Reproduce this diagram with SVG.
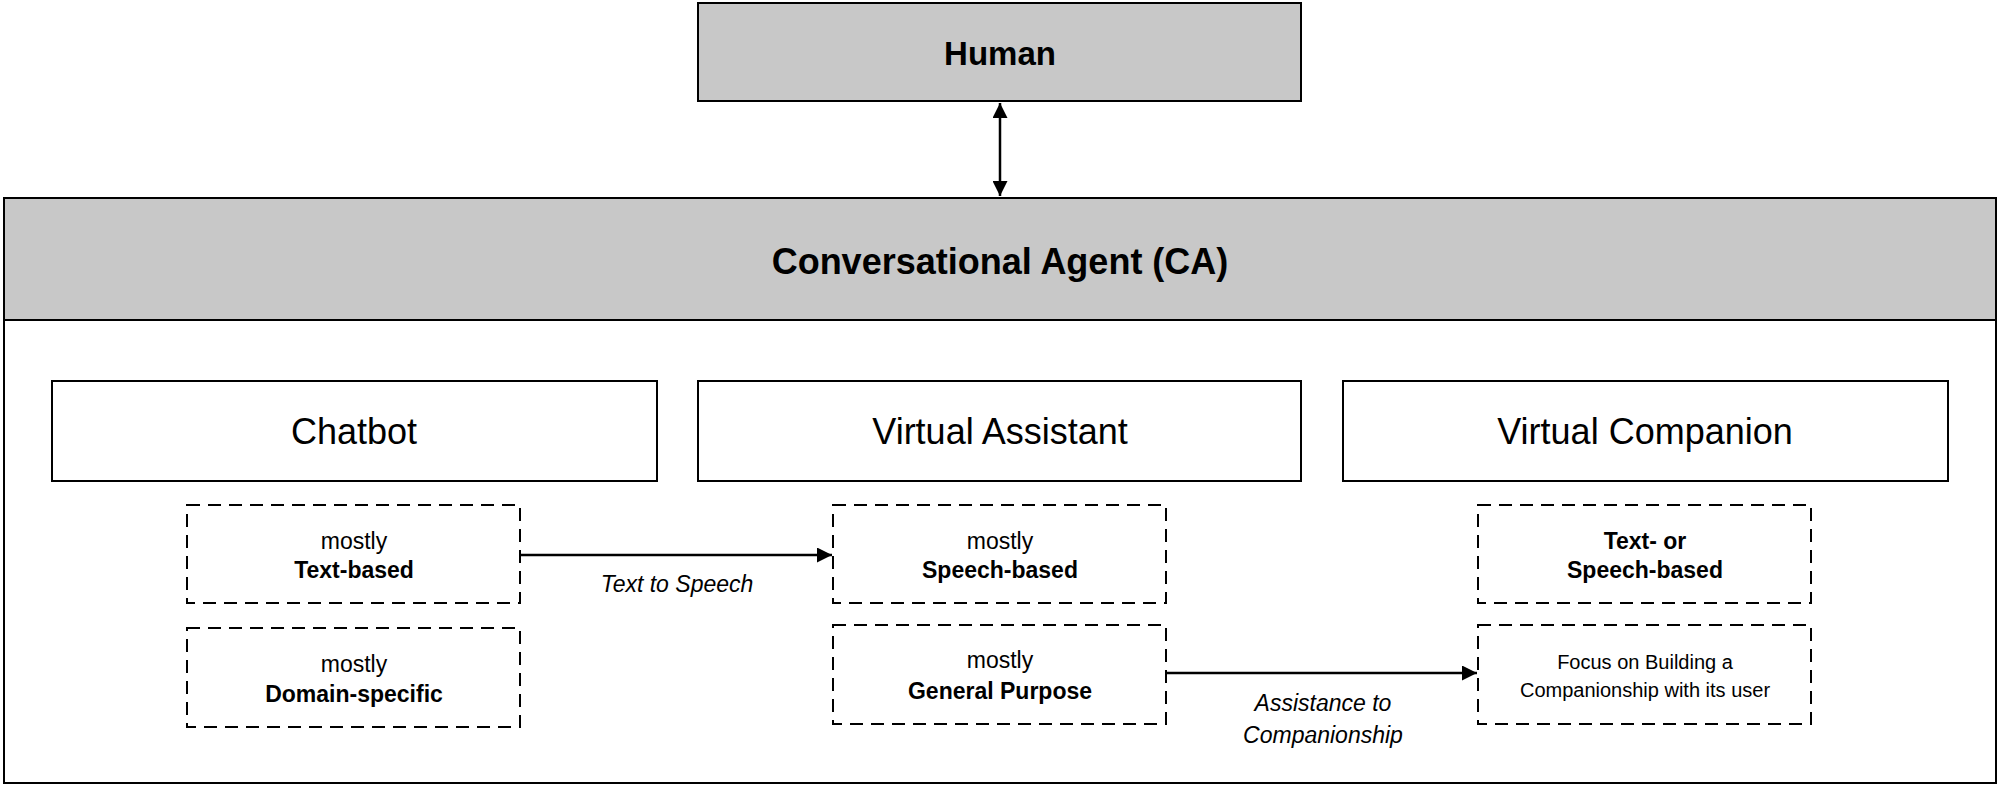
<svg xmlns="http://www.w3.org/2000/svg" width="2000" height="786" viewBox="0 0 2000 786">
<defs>
<marker id="ah" viewBox="0 0 10 10" refX="10" refY="5" markerWidth="6" markerHeight="6" markerUnits="strokeWidth" orient="auto-start-reverse"><path d="M0,0 L10,5 L0,10 z" fill="#000"/></marker>
<style>
.box{fill:#fff;stroke:#000;stroke-width:2}
.gray{fill:#c8c8c8;stroke:#000;stroke-width:2}
.dash{fill:#fff;stroke:#000;stroke-width:2;stroke-dasharray:13 8}
text{font-family:"Liberation Sans",Arial,sans-serif;text-anchor:middle;fill:#000}
.t{font-size:36px}
.s{font-size:23px}
.b{font-weight:bold}
.i{font-style:italic;font-size:23px}
.f{font-size:20px}
.con{stroke:#000;stroke-width:2.5;fill:none}
</style>
</defs>
<g id="ca">
<rect class="box" x="4" y="198" width="1992" height="585"/>
<rect class="gray" x="4" y="198" width="1992" height="122"/>
<text x="1000" y="274" font-size="36" class="b">Conversational Agent (CA)</text>
</g>
<g id="human"><rect class="gray" x="698" y="3" width="603" height="98"/><text x="1000" y="65" font-size="33" class="b">Human</text></g>
<g id="chatbot"><rect class="box" x="52" y="381" width="605" height="100"/><text class="t" x="354" y="444">Chatbot</text></g>
<g id="va"><rect class="box" x="698" y="381" width="603" height="100"/><text class="t" x="1000" y="444">Virtual Assistant</text></g>
<g id="vc"><rect class="box" x="1343" y="381" width="605" height="100"/><text class="t" x="1645" y="444">Virtual Companion</text></g>
<g id="cb1"><rect class="dash" x="187" y="505" width="333" height="98"/><text class="s" x="354" y="549">mostly</text><text class="s b" x="354" y="578">Text-based</text></g>
<g id="cb2"><rect class="dash" x="187" y="628" width="333" height="99"/><text class="s" x="354" y="672">mostly</text><text class="s b" x="354" y="702">Domain-specific</text></g>
<g id="va1"><rect class="dash" x="833" y="505" width="333" height="98"/><text class="s" x="1000" y="549">mostly</text><text class="s b" x="1000" y="578">Speech-based</text></g>
<g id="va2"><rect class="dash" x="833" y="625" width="333" height="99"/><text class="s" x="1000" y="668">mostly</text><text class="s b" x="1000" y="699">General Purpose</text></g>
<g id="vc1"><rect class="dash" x="1478" y="505" width="333" height="98"/><text class="s b" x="1645" y="549">Text- or</text><text class="s b" x="1645" y="578">Speech-based</text></g>
<g id="vc2"><rect class="dash" x="1478" y="625" width="333" height="99"/><text class="f" x="1645" y="669">Focus on Building a</text><text class="f" x="1645" y="697">Companionship with its user</text></g>
<g id="connectors">
<line class="con" x1="1000" y1="103" x2="1000" y2="196" marker-start="url(#ah)" marker-end="url(#ah)"/>
<line class="con" x1="520" y1="555" x2="832" y2="555" marker-end="url(#ah)"/>
<text class="i" x="677" y="592">Text to Speech</text>
<line class="con" x1="1166" y1="673" x2="1477" y2="673" marker-end="url(#ah)"/>
<text class="i" x="1323" y="711">Assistance to</text>
<text class="i" x="1323" y="743">Companionship</text>
</g>
</svg>
